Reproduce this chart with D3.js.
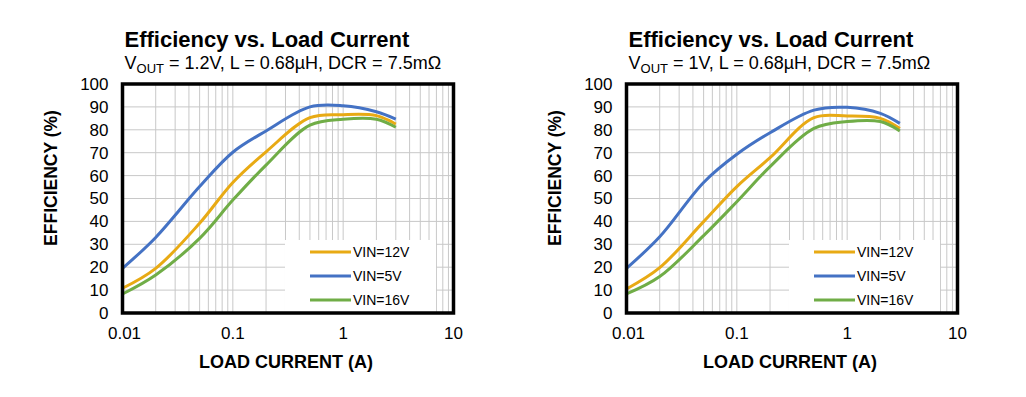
<!DOCTYPE html>
<html>
<head>
<meta charset="utf-8">
<script src="https://cdn.jsdelivr.net/npm/d3@7"></script>
<style>
  body { margin: 0; background: #fff; }
  svg { display: block; font-family: Arial, "Liberation Sans", sans-serif; }
</style>
</head>
<body>
<svg id="chart" width="1026" height="397"></svg>
<script>
// load current (A)
const currents = [0.01, 0.02, 0.05, 0.1, 0.2, 0.5, 1, 2, 3];

// VOUT = 1.2V efficiency (%)
const eff12_vin12 = [10.8, 19.5, 39.2, 57.0, 70.4, 85.3, 86.6, 86.2, 82.5];
const eff12_vin5 = [19.5, 33.0, 55.2, 70.2, 79.5, 90.0, 90.5, 87.9, 84.7];
const eff12_vin16 = [8.3, 16.6, 32.6, 49.3, 64.6, 82.0, 84.6, 84.6, 81.1];

// VOUT = 1V efficiency (%)
const eff1_vin12 = [10.5, 19.8, 39.9, 55.2, 67.8, 85.3, 86.0, 85.0, 80.6];
const eff1_vin5 = [19.5, 33.3, 57.0, 69.3, 78.7, 88.6, 89.8, 87.2, 82.8];
const eff1_vin16 = [8.3, 15.9, 33.8, 48.6, 63.9, 80.6, 83.6, 83.6, 79.5];

const seriesNames = ["VIN=12V", "VIN=5V", "VIN=16V"];
const seriesColors = ["#E8AA14", "#4472C4", "#70AD47"];

const yTicks = [0, 10, 20, 30, 40, 50, 60, 70, 80, 90, 100];
const xTicks = [0.01, 0.1, 1, 10];
const vouts = ["1.2V", "1V"];

const charts = [
    { left: 122.5, vout: vouts[0], data: [eff12_vin12, eff12_vin5, eff12_vin16] },
    { left: 626.5, vout: vouts[1], data: [eff1_vin12, eff1_vin5, eff1_vin16] }
];

const svg = d3.select("#chart");
const plotW = 331, plotTop = 84, plotBottom = 313;

charts.forEach(c => {
    const g = svg.append("g");
    const xScale = d3.scaleLog().domain([0.01, 10]).range([c.left, c.left + plotW]);
    const yScale = d3.scaleLinear().domain([0, 100]).range([plotBottom, plotTop]);

    // minor vertical grid
    const gridX = [];
    [0.01, 0.1, 1].forEach(dec => {
        for (let k = 1; k <= 9; k++) gridX.push(dec * k);
    });
    g.selectAll(".vgrid")
        .data(gridX.filter(v => v > 0.01))
        .join("line")
        .attr("x1", d => xScale(d)).attr("x2", d => xScale(d))
        .attr("y1", plotTop).attr("y2", plotBottom)
        .attr("stroke", "#c8c8c8").attr("stroke-width", 1);

    g.selectAll(".hgrid")
        .data(yTicks.slice(1, -1))
        .join("line")
        .attr("x1", c.left).attr("x2", c.left + plotW)
        .attr("y1", d => yScale(d)).attr("y2", d => yScale(d))
        .attr("stroke", "#c8c8c8").attr("stroke-width", 1);

    // legend background covers grid
    const boxX = c.left + 162.5;
    g.append("rect")
        .attr("x", boxX).attr("y", 240)
        .attr("width", 151).attr("height", plotBottom - 240)
        .attr("fill", "#fff");

    const line = d3.line()
        .x((d, i) => xScale(currents[i]))
        .y(d => yScale(d))
        .curve(d3.curveCatmullRom.alpha(0.5));

    c.data.forEach((s, i) => {
        g.append("path")
            .attr("d", line(s))
            .attr("fill", "none")
            .attr("stroke", seriesColors[i])
            .attr("stroke-width", 3);
    });

    // legend
    const lx = boxX + 25;
    seriesNames.forEach((name, i) => {
        const ly = 252 + i * 24;
        g.append("line")
            .attr("x1", lx).attr("x2", lx + 41)
            .attr("y1", ly).attr("y2", ly)
            .attr("stroke", seriesColors[i]).attr("stroke-width", 3);
        g.append("text")
            .attr("x", lx + 43).attr("y", ly)
            .attr("dy", "0.35em")
            .attr("font-size", 14)
            .text(name);
    });

    // frame
    g.append("rect")
        .attr("x", c.left).attr("y", plotTop)
        .attr("width", plotW).attr("height", plotBottom - plotTop)
        .attr("fill", "none").attr("stroke", "#000").attr("stroke-width", 3.5);

    // tick labels
    g.selectAll(".ylab")
        .data(yTicks)
        .join("text")
        .attr("x", c.left - 14).attr("y", d => yScale(d))
        .attr("dy", "0.35em")
        .attr("text-anchor", "end")
        .attr("font-size", 17)
        .text(d => d);

    g.selectAll(".xlab")
        .data(xTicks)
        .join("text")
        .attr("x", d => xScale(d) + (d === 0.01 ? 2 : 0)).attr("y", 333)
        .attr("dy", "0.35em")
        .attr("text-anchor", "middle")
        .attr("font-size", 17)
        .text(d => d);

    // axis titles
    g.append("text")
        .attr("x", c.left + plotW / 2 - 2).attr("y", 362)
        .attr("dy", "0.35em")
        .attr("text-anchor", "middle")
        .attr("font-size", 18).attr("font-weight", "bold")
        .text("LOAD CURRENT (A)");

    g.append("text")
        .attr("transform", `translate(${c.left - 72},178) rotate(-90)`)
        .attr("dy", "0.35em")
        .attr("text-anchor", "middle")
        .attr("font-size", 17.5).attr("font-weight", "bold")
        .text("EFFICIENCY (%)");

    // titles
    g.append("text")
        .attr("x", c.left + 2).attr("y", 47)
        .attr("font-size", 22).attr("font-weight", "bold")
        .text("Efficiency vs. Load Current");

    const sub = g.append("text")
        .attr("x", c.left + 2).attr("y", 69)
        .attr("font-size", 18);
    sub.append("tspan").text("V");
    sub.append("tspan").attr("font-size", 13).attr("dy", 4).text("OUT");
    sub.append("tspan").attr("dy", -4).text(` = ${c.vout}, L = 0.68µH, DCR = 7.5mΩ`);
});
</script>
</body>
</html>
